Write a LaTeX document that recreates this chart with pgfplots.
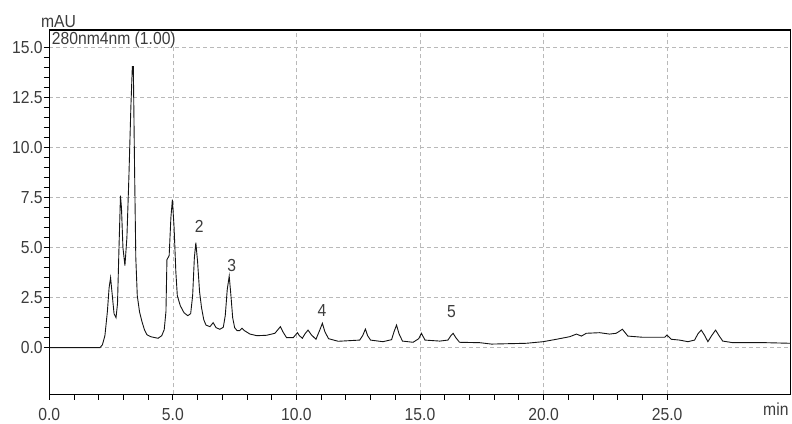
\documentclass[border=0pt]{standalone}
\usepackage{fontspec}
\setmainfont{Liberation Sans}[FakeStretch=0.9]
\usepackage{pgfplots}
\pgfplotsset{compat=1.18}
\definecolor{trace}{RGB}{20,20,20}
\definecolor{gridc}{RGB}{185,185,185}
\definecolor{labc}{RGB}{60,60,60}
\newcommand\lab{\fontsize{17.5}{20}\selectfont}
\begin{document}
\begin{tikzpicture}
\path[use as bounding box] (-49.3bp,-29.7bp) rectangle (742.7bp,394.3bp);
\begin{axis}[
  at={(0,0)}, anchor=south west,
  scale only axis, width=741.4bp, height=364.3bp,
  xmin=0, xmax=30, ymin=-2.33, ymax=15.88,
  axis line style={black, line width=1.1bp},
  xtick={0,5,10,15,20,25},
  xticklabels={0.0,5.0,10.0,15.0,20.0,25.0},
  ytick={0,2.5,5,7.5,10,12.5,15},
  yticklabels={0.0,2.5,5.0,7.5,10.0,12.5,15.0},
  extra x ticks={29.40},
  extra x tick labels={min},
  extra x tick style={major tick length=0pt, grid=none},
  minor x tick num=4, minor y tick num=4,
  tick align=outside,
  xtick pos=lower, ytick pos=left,
  major tick length=5.5bp, minor tick length=5.5bp,
  tick style={black, line width=0.8bp},
  xmajorgrids, ymajorgrids,
  major grid style={gridc, dash pattern=on 4bp off 3bp, line width=0.7bp},
  /pgf/number format/assume math mode=true,
  every tick label/.append style={font=\lab, text=labc},
  xticklabel style={inner sep=0pt, anchor=north, yshift=-8.5bp},
  yticklabel style={inner sep=0pt, anchor=east, xshift=-1bp},
  clip=false,
]
\addplot[trace, line width=0.9bp] coordinates {
(0,0) (2.05,0) (2.15,0.15) (2.25,0.6) (2.35,1.8) (2.42,3.0) (2.48,3.5) (2.55,2.6) (2.62,1.7) (2.70,1.5) (2.76,2.2) (2.82,5.0) (2.88,7.6) (2.92,7.0) (2.98,5.0) (3.06,4.1) (3.14,5.5) (3.22,8.5) (3.30,12.0) (3.36,14.05) (3.40,14.05) (3.45,9.0) (3.50,4.5) (3.56,2.6) (3.65,1.8) (3.75,1.3) (3.85,0.9) (3.95,0.65) (4.1,0.55) (4.4,0.47) (4.55,0.6) (4.65,0.9) (4.72,1.8) (4.76,4.4) (4.85,4.6) (4.92,6.5) (4.98,7.4) (5.05,6.0) (5.12,3.8) (5.18,2.6) (5.3,2.1) (5.45,1.75) (5.6,1.6) (5.72,1.7) (5.8,2.6) (5.87,4.5) (5.93,5.25) (6.0,4.3) (6.08,2.8) (6.16,2.0) (6.25,1.4) (6.34,1.13) (6.5,1.05) (6.63,1.25) (6.75,1.0) (6.9,0.92) (7.04,1.02) (7.12,1.6) (7.2,2.9) (7.28,3.58) (7.35,2.6) (7.42,1.5) (7.5,1.0) (7.6,0.85) (7.7,0.85) (7.8,0.97) (7.9,0.85) (8.12,0.68) (8.4,0.6) (8.79,0.62) (9.13,0.72) (9.25,0.9) (9.35,1.05) (9.45,0.8) (9.6,0.5) (9.87,0.5) (10.04,0.75) (10.12,0.6) (10.24,0.47) (10.35,0.7) (10.47,0.88) (10.6,0.65) (10.79,0.42) (10.95,0.9) (11.05,1.22) (11.15,0.8) (11.3,0.45) (11.69,0.32) (12.56,0.38) (12.68,0.6) (12.79,0.93) (12.88,0.6) (13.0,0.38) (13.5,0.3) (13.85,0.4) (13.95,0.8) (14.05,1.13) (14.15,0.7) (14.29,0.33) (14.72,0.27) (14.95,0.45) (15.06,0.72) (15.2,0.38) (15.8,0.33) (16.13,0.38) (16.25,0.6) (16.34,0.72) (16.45,0.5) (16.6,0.27) (17.42,0.25) (17.89,0.18) (19.3,0.22) (19.98,0.3) (20.52,0.42) (21.06,0.55) (21.33,0.68) (21.53,0.58) (21.73,0.72) (22.27,0.75) (22.67,0.68) (22.94,0.72) (23.19,0.92) (23.41,0.58) (24.02,0.52) (24.9,0.52) (24.99,0.63) (25.17,0.42) (25.5,0.38) (25.84,0.3) (26.11,0.38) (26.25,0.7) (26.38,0.88) (26.5,0.65) (26.65,0.3) (26.8,0.6) (26.96,0.88) (27.1,0.6) (27.25,0.33) (27.66,0.25) (29.0,0.25) (30,0.22)
};
\node[font=\lab, text=labc, inner sep=0pt] at (axis cs:6.07,6.08) {2};
\node[font=\lab, text=labc, inner sep=0pt] at (axis cs:7.38,4.11) {3};
\node[font=\lab, text=labc, inner sep=0pt] at (axis cs:11.03,1.84) {4};
\node[font=\lab, text=labc, inner sep=0pt] at (axis cs:16.27,1.8) {5};
\node[font=\lab, text=labc, inner sep=0pt, anchor=west] at ([xshift=2.4bp,yshift=-10bp]rel axis cs:0,1) {280nm4nm (1.00)};
\node[font=\lab, text=labc, inner sep=0pt] at ([xshift=9.2bp,yshift=8.5bp]rel axis cs:0,1) {mAU};
\end{axis}
\end{tikzpicture}
\end{document}
